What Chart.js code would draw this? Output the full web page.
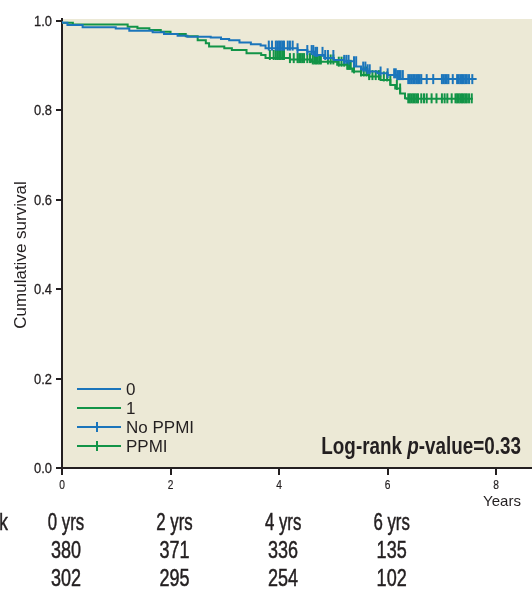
<!DOCTYPE html>
<html lang="en">
<head>
<meta charset="UTF-8">
<title>Cumulative survival</title>
<script src="https://cdn.jsdelivr.net/npm/chart.js"></script>
<style>
    html, body { margin: 0; padding: 0; background: #fff; }
    #wrap { width: 532px; height: 592px; }
</style>
</head>
<body>
<div id="wrap"><canvas id="km"></canvas></div>
<script>
// Kaplan-Meier steps (years, survival after the step)
const noPpmiTimes = [0, 0.10, 0.38, 0.99, 1.24, 1.67, 1.88, 2.13, 2.31, 2.74, 2.93, 3.08, 3.27, 3.48, 3.66, 3.75, 4.34, 4.52, 4.65, 4.83, 5.01, 5.20, 5.38, 5.51, 5.63, 5.81, 6.00, 6.18, 6.34, 7.64];
const noPpmiSurv  = [1.0, 0.996, 0.991, 0.986, 0.983, 0.978, 0.975, 0.971, 0.967, 0.965, 0.963, 0.960, 0.957, 0.952, 0.948, 0.945, 0.939, 0.935, 0.931, 0.924, 0.917, 0.913, 0.910, 0.898, 0.892, 0.887, 0.883, 0.879, 0.870, 0.870];
const ppmiTimes = [0, 0.20, 1.21, 1.39, 1.61, 1.82, 2.00, 2.28, 2.50, 2.65, 2.71, 2.99, 3.13, 3.40, 3.67, 3.75, 4.20, 4.60, 5.07, 5.26, 5.35, 5.51, 5.66, 5.87, 6.05, 6.14, 6.23, 6.32, 6.35, 7.57];
const ppmiSurv  = [1.0, 0.996, 0.992, 0.987, 0.984, 0.980, 0.976, 0.971, 0.966, 0.957, 0.950, 0.943, 0.939, 0.935, 0.928, 0.924, 0.917, 0.914, 0.909, 0.902, 0.894, 0.887, 0.879, 0.876, 0.868, 0.857, 0.849, 0.838, 0.827, 0.826];

// censored observations (years)
const noPpmiCensor = [3.81, 3.87, 3.94, 3.97, 4.00, 4.03, 4.06, 4.09, 4.16, 4.20, 4.25, 4.34, 4.52, 4.60, 4.63, 4.67, 4.70, 4.80, 4.85, 4.90, 5.00, 5.20, 5.24, 5.28, 5.38, 5.42, 5.55, 5.59, 5.63, 5.67, 5.87, 6.00, 6.12, 6.15, 6.18, 6.21, 6.24, 6.28, 6.38, 6.41, 6.44, 6.47, 6.50, 6.53, 6.56, 6.59, 6.62, 6.72, 6.84, 7.00, 7.03, 7.06, 7.09, 7.12, 7.20, 7.28, 7.31, 7.34, 7.37, 7.40, 7.43, 7.46, 7.50, 7.56];
const ppmiCensor   = [3.83, 3.90, 3.94, 3.97, 4.00, 4.03, 4.06, 4.09, 4.20, 4.27, 4.34, 4.37, 4.40, 4.43, 4.46, 4.52, 4.57, 4.62, 4.65, 4.68, 4.71, 4.74, 4.77, 4.90, 4.95, 5.00, 5.10, 5.15, 5.20, 5.26, 5.29, 5.32, 5.38, 5.51, 5.56, 5.61, 5.66, 5.72, 5.78, 5.84, 5.93, 5.99, 6.05, 6.17, 6.23, 6.38, 6.41, 6.44, 6.47, 6.50, 6.53, 6.56, 6.62, 6.67, 6.72, 6.81, 6.90, 7.00, 7.05, 7.10, 7.18, 7.25, 7.28, 7.31, 7.34, 7.37, 7.40, 7.43, 7.46, 7.50, 7.55];

const xTicks = [0, 2, 4, 6, 8];
const yTicks = [0, 0.2, 0.4, 0.6, 0.8, 1.0];

// numbers at risk
const riskTimes = [0, 2, 4, 6];
const riskHeaders = ['0 yrs', '2 yrs', '4 yrs', '6 yrs'];
const riskNoPpmi = [380, 371, 336, 135];
const riskPpmi = [302, 295, 254, 102];

const BLUE = '#1b75bb';
const GREEN = '#129447';
const INK = '#231f20';
const SANS = "'Liberation Sans', Arial, sans-serif";

function steps(times, surv) {
    return times.map((t, i) => ({ x: t, y: surv[i] }));
}

// survival value of the step curve at time t (for placing censor marks)
function survAt(times, surv, t) {
    let s = surv[0];
    for (let i = 0; i < times.length; i++) {
        if (times[i] <= t) s = surv[i];
    }
    return s;
}

function censorPoints(cens, times, surv) {
    return cens.map(t => ({ x: t, y: survAt(times, surv, t) }));
}

// no condensed face installed, so squeeze a regular one
function narrowText(ctx, text, x, y, font, align, sx, heavy) {
    ctx.save();
    ctx.font = font;
    ctx.textAlign = align;
    ctx.textBaseline = 'alphabetic';
    ctx.translate(x, y);
    ctx.scale(sx, 1);
    ctx.fillText(text, 0, 0);
    if (heavy) {
        ctx.strokeStyle = ctx.fillStyle;
        ctx.lineWidth = heavy;
        ctx.strokeText(text, 0, 0);
    }
    ctx.restore();
}

const extras = {
    id: 'extras',
    beforeDraw(chart) {
        const { ctx, chartArea: a } = chart;
        ctx.save();
        ctx.fillStyle = '#ece9d6';
        ctx.fillRect(a.left, a.top, a.right - a.left, a.bottom - a.top);
        ctx.restore();
    },
    afterDraw(chart) {
        const { ctx } = chart;
        const xs = chart.scales.x;
        const ys = chart.scales.y;
        ctx.save();
        ctx.fillStyle = INK;

        // tick labels
        yTicks.forEach(v => {
            narrowText(ctx, v.toFixed(1), 52, ys.getPixelForValue(v) + 5, '15px ' + SANS, 'right', 0.86, 0.3);
        });
        xTicks.forEach(v => {
            narrowText(ctx, String(v), xs.getPixelForValue(v), 489, '12px ' + SANS, 'center', 0.85, 0.2);
        });

        // y axis title
        ctx.font = '17px ' + SANS;
        ctx.textAlign = 'center';
        ctx.textBaseline = 'middle';
        ctx.translate(21, 255);
        ctx.rotate(-Math.PI / 2);
        ctx.fillText('Cumulative survival', 0, 0);
        ctx.setTransform(1, 0, 0, 1, 0, 0);

        // legend
        const items = [
            { label: chart.data.datasets[0].label, color: BLUE, tick: false },
            { label: chart.data.datasets[1].label, color: GREEN, tick: false },
            { label: chart.data.datasets[2].label, color: BLUE, tick: true },
            { label: chart.data.datasets[3].label, color: GREEN, tick: true }
        ];
        ctx.textAlign = 'left';
        ctx.textBaseline = 'alphabetic';
        ctx.font = '17px ' + SANS;
        items.forEach((it, i) => {
            const y = 389 + i * 19;
            ctx.strokeStyle = it.color;
            ctx.lineWidth = 2;
            ctx.beginPath();
            ctx.moveTo(77, y);
            ctx.lineTo(121, y);
            if (it.tick) {
                ctx.moveTo(97, y - 5);
                ctx.lineTo(97, y + 5);
            }
            ctx.stroke();
            ctx.fillStyle = INK;
            ctx.fillText(it.label, 126, y + 6);
        });

        // log-rank annotation, squeezed bold
        const sx = 0.82;
        const parts = [
            { t: 'Log-rank ', f: 'bold 23px ' + SANS },
            { t: 'p', f: 'italic bold 23px ' + SANS },
            { t: '-value=0.33', f: 'bold 23px ' + SANS }
        ];
        let total = 0;
        parts.forEach(p => { ctx.font = p.f; p.w = ctx.measureText(p.t).width * sx; total += p.w; });
        let px = 521 - total;
        parts.forEach(p => { narrowText(ctx, p.t, px, 454, p.f, 'left', sx); px += p.w; });

        // x axis title
        ctx.font = '15px ' + SANS;
        ctx.textAlign = 'center';
        ctx.fillText('Years', 502, 506);

        // numbers at risk
        const rf = '24px ' + SANS;
        narrowText(ctx, 'At risk', 8, 530, rf, 'right', 0.72, 0.5);
        riskTimes.forEach((t, i) => {
            const x = xs.getPixelForValue(t) + 4;
            narrowText(ctx, riskHeaders[i], x, 530, rf, 'center', 0.7, 0.5);
            narrowText(ctx, String(riskNoPpmi[i]), x, 558, rf, 'center', 0.75, 0.5);
            narrowText(ctx, String(riskPpmi[i]), x, 586, rf, 'center', 0.75, 0.5);
        });
        ctx.restore();
    }
};

new Chart(document.getElementById('km'), {
    type: 'scatter',
    data: {
        datasets: [
            {
                label: '0',
                data: steps(noPpmiTimes, noPpmiSurv),
                showLine: true, stepped: 'after',
                borderColor: BLUE, borderWidth: 2, pointRadius: 0
            },
            {
                label: '1',
                data: steps(ppmiTimes, ppmiSurv),
                showLine: true, stepped: 'after',
                borderColor: GREEN, borderWidth: 2, pointRadius: 0
            },
            {
                label: 'No PPMI',
                data: censorPoints(noPpmiCensor, noPpmiTimes, noPpmiSurv),
                showLine: false, pointStyle: 'line', rotation: 90,
                pointRadius: 5, borderColor: BLUE, borderWidth: 2
            },
            {
                label: 'PPMI',
                data: censorPoints(ppmiCensor, ppmiTimes, ppmiSurv),
                showLine: false, pointStyle: 'line', rotation: 90,
                pointRadius: 5, borderColor: GREEN, borderWidth: 2
            }
        ]
    },
    options: {
        responsive: true,
        maintainAspectRatio: false,
        animation: false,
        layout: { autoPadding: false, padding: { top: 19, right: 0, left: 0, bottom: 0 } },
        plugins: {
            legend: { display: false },
            tooltip: { enabled: false }
        },
        scales: {
            x: {
                type: 'linear',
                min: 0,
                max: 8.66,
                afterBuildTicks: s => { s.ticks = xTicks.map(v => ({ value: v })); },
                afterFit: s => { s.height = 124; s.paddingLeft = 0; s.paddingRight = 0; },
                border: { display: true, color: INK, width: 2 },
                grid: { drawOnChartArea: false, color: INK, lineWidth: 2, tickLength: 7 },
                ticks: { display: false }
            },
            y: {
                min: 0,
                max: 1.0045,
                afterBuildTicks: s => { s.ticks = yTicks.map(v => ({ value: v })); },
                afterFit: s => { s.width = 62; s.paddingTop = 0; s.paddingBottom = 0; },
                border: { display: true, color: INK, width: 2 },
                grid: { drawOnChartArea: false, color: INK, lineWidth: 2, tickLength: 6 },
                ticks: { display: false }
            }
        }
    },
    plugins: [extras]
});
</script>
</body>
</html>
